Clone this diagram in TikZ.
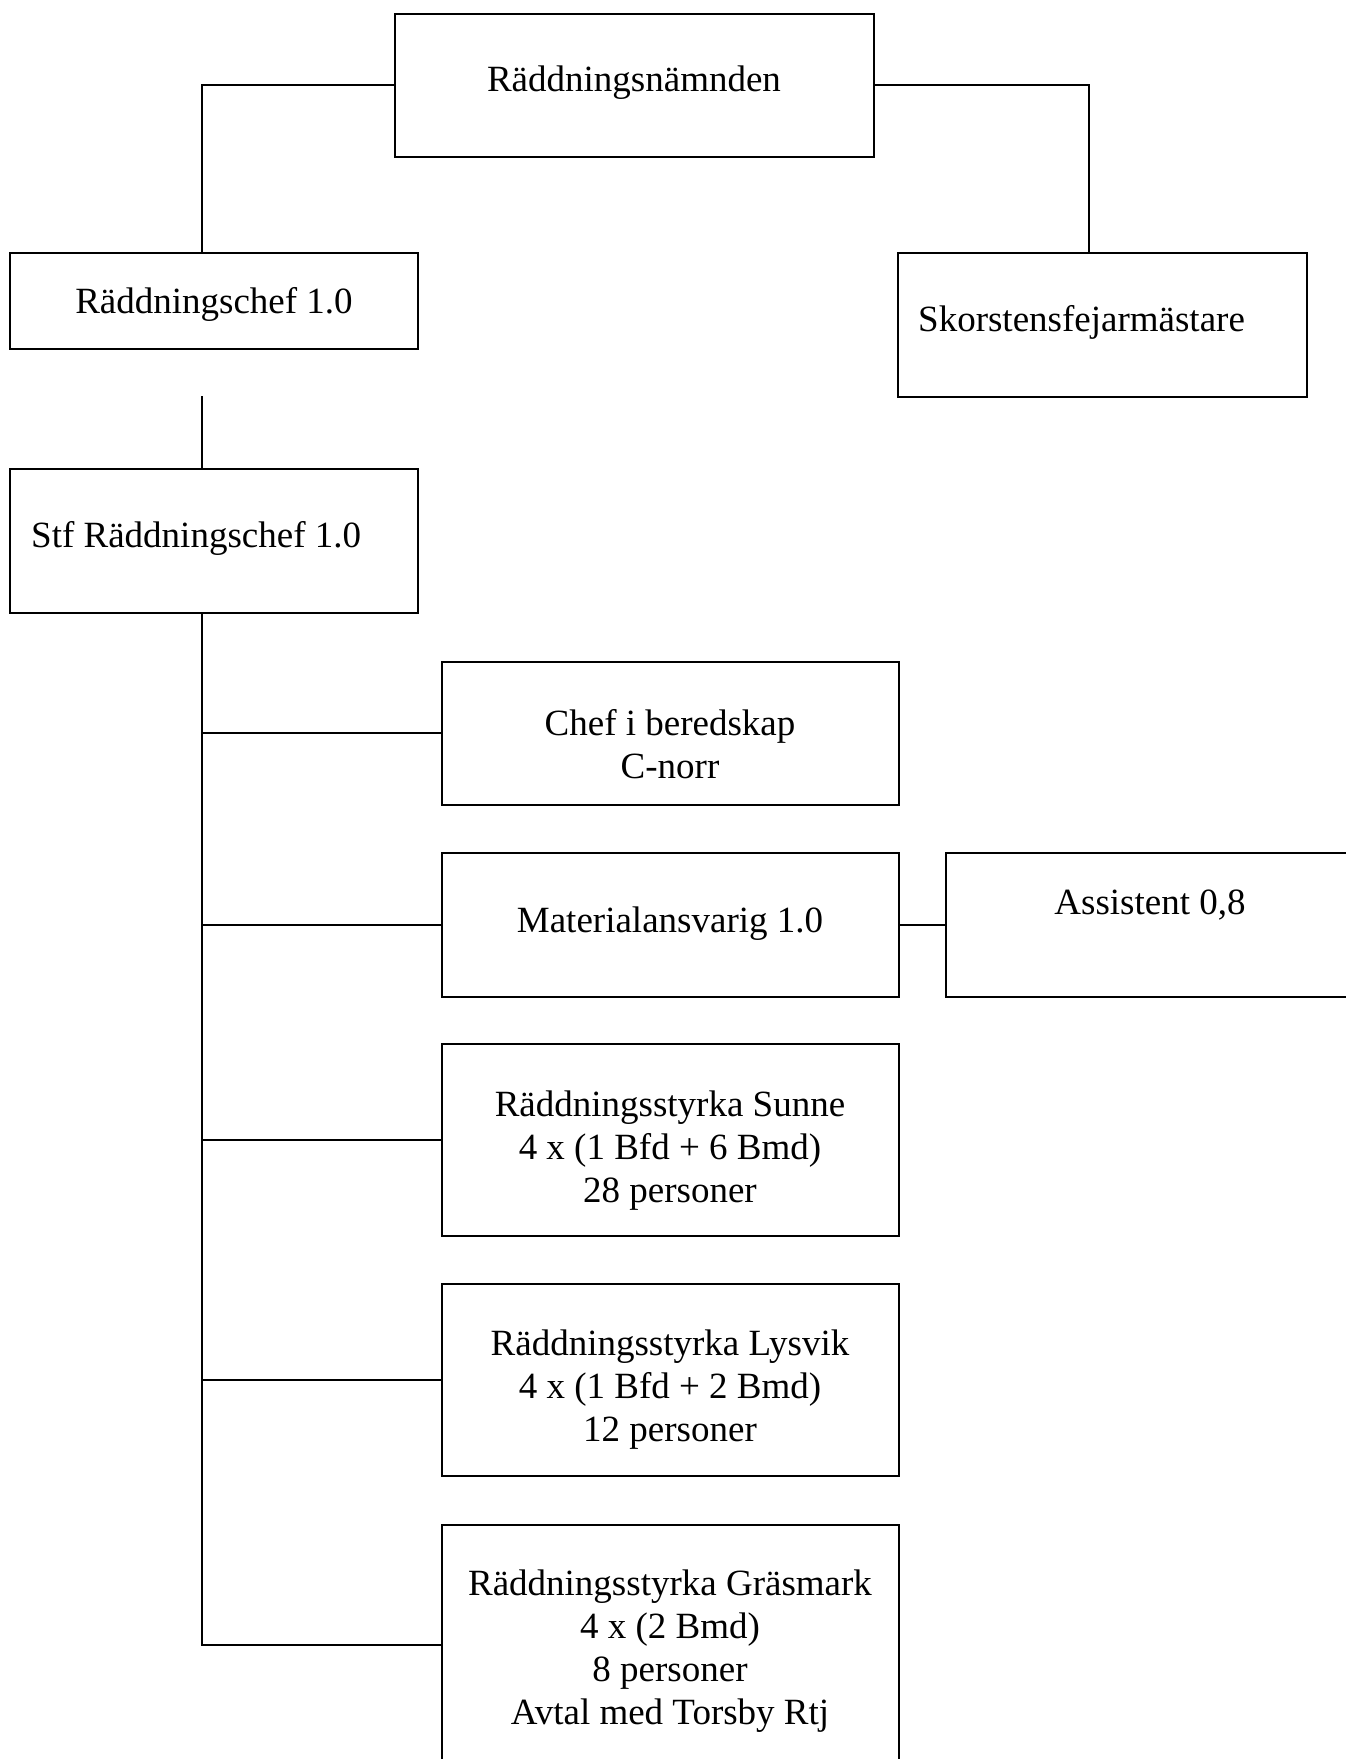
\documentclass[tikz,border=0pt]{standalone}
\usepackage{fontspec}
\setmainfont{Liberation Serif}
\begin{document}
\begin{tikzpicture}[x=1pt,y=-1pt,
  box/.style={draw=black, line width=2pt, rectangle, inner sep=0pt, fill=none},
  lbl/.style={inner sep=0pt, align=center, font=\fontsize{37}{43}\selectfont},
  conn/.style={draw=black, line width=2pt}]
\useasboundingbox (0,0) rectangle (1346,1759);
% boxes
\node[box, minimum width=479pt, minimum height=143pt] (namnd) at (634.5,85) {};
\node[box, minimum width=408pt, minimum height=96pt] (rc) at (214,301) {};
\node[box, minimum width=409pt, minimum height=144pt] (sk) at (1102,324.5) {};
\node[box, minimum width=408pt, minimum height=144pt] (stf) at (214,541) {};
\node[box, minimum width=457pt, minimum height=143pt] (chef) at (670.5,733) {};
\node[box, minimum width=457pt, minimum height=144pt] (mat) at (670.5,925) {};
\node[box, minimum width=408pt, minimum height=144pt] (asst) at (1150,925) {};
\node[box, minimum width=457pt, minimum height=192pt] (sunne) at (670.5,1140) {};
\node[box, minimum width=457pt, minimum height=192pt] (lysvik) at (670.5,1380) {};
\node[box, minimum width=457pt, minimum height=240pt] (gras) at (670.5,1645) {};
% texts (anchor=base is the baseline of the last line)
\node[lbl, anchor=base] (namndT) at (634,91) {Räddningsnämnden};
\node[lbl, anchor=base] (rcT) at (214,313) {Räddningschef 1.0};
\node[lbl, anchor=base west] (skT) at (918,331) {Skorstensfejarmästare};
\node[lbl, anchor=base west] (stfT) at (31,547) {Stf Räddningschef 1.0};
\node[lbl, anchor=base] (chefT) at (670,778) {Chef i beredskap\\C-norr};
\node[lbl, anchor=base] (matT) at (670,932) {Materialansvarig 1.0};
\node[lbl, anchor=base] (asstT) at (1150,914) {Assistent 0,8};
\node[lbl, anchor=base] (sunneT) at (670,1202) {Räddningsstyrka Sunne\\4 x (1 Bfd + 6 Bmd)\\28 personer};
\node[lbl, anchor=base] (lysvikT) at (670,1441) {Räddningsstyrka Lysvik\\4 x (1 Bfd + 2 Bmd)\\12 personer};
\node[lbl, anchor=base] (grasT) at (670,1724) {Räddningsstyrka Gräsmark\\4 x (2 Bmd)\\8 personer\\Avtal med Torsby Rtj};
% connector anchors
\coordinate (spine) at (202,0);
\coordinate (rspine) at (1089,0);
\coordinate (gaptop) at (202,396);
% connectors
\draw[conn] (namnd.west) -| (rc.north -| spine);
\draw[conn] (namnd.east) -| (sk.north -| rspine);
\draw[conn] (gaptop) -- (stf.north -| gaptop);
\draw[conn] (stf.south -| spine) |- (gras.west);
\draw[conn] (chef.west -| spine) -- (chef.west);
\draw[conn] (mat.west -| spine) -- (mat.west);
\draw[conn] (sunne.west -| spine) -- (sunne.west);
\draw[conn] (lysvik.west -| spine) -- (lysvik.west);
\draw[conn] (mat.east) -- (asst.west);
\end{tikzpicture}
\end{document}
